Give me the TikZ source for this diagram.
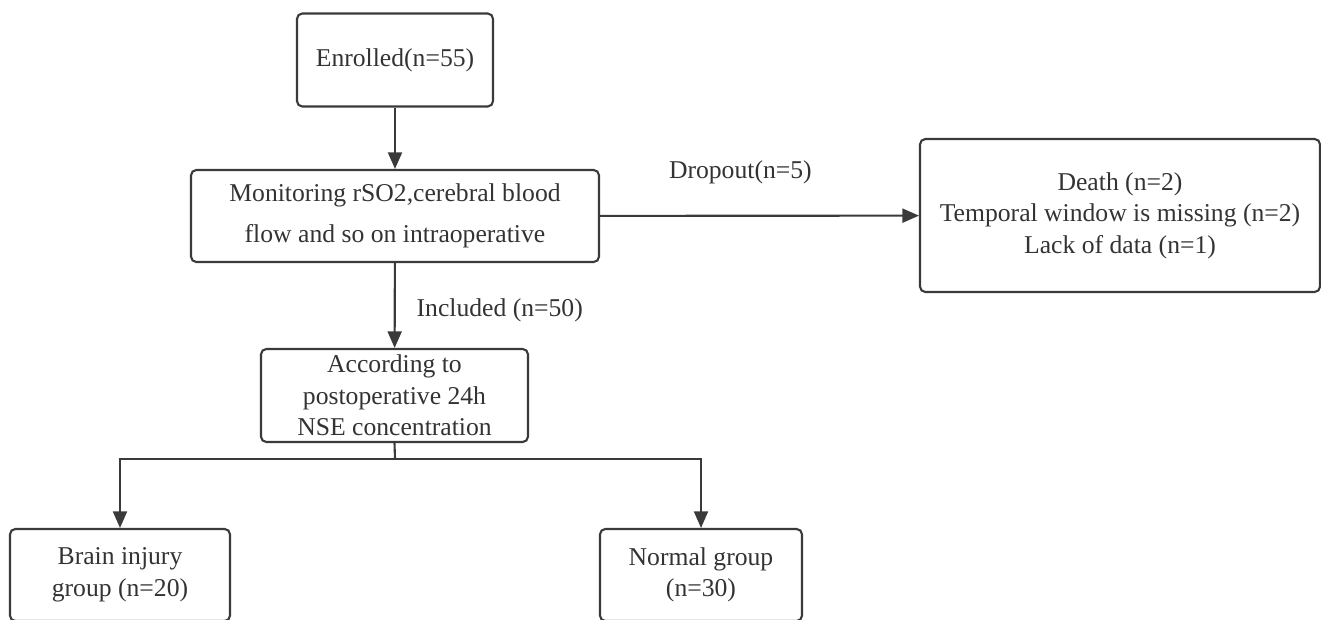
\documentclass[tikz,border=0pt]{standalone}
\usepackage{fontspec}
\setmainfont{Liberation Serif}
\usetikzlibrary{arrows.meta}
\definecolor{linec}{HTML}{3A3A3A}
\definecolor{textc}{HTML}{333333}
\tikzset{
  box/.style={draw=linec, line width=1.2pt, rounded corners=3pt, align=center,
    inner sep=0pt, text=textc, font=\fontsize{14.6}{18}\selectfont},
  arr/.style={draw=linec, line width=1.2pt, -{Triangle[length=9.5pt, width=8pt]}},
  lab/.style={text=textc, font=\fontsize{14.6}{18}\selectfont}
}
\begin{document}
\begin{tikzpicture}[x=0.02cm, y=-0.02cm]
  \useasboundingbox (0,0) rectangle (1321,619);
  \clip (0,0) rectangle (1321,619);
  % boxes
  \node[box, minimum width=3.92cm, minimum height=1.86cm] (enrol) at (395,60) {Enrolled(n=55)};
  \node[box, minimum width=8.16cm, minimum height=1.84cm, font=\fontsize{14.6}{23.5}\selectfont] (monit) at (395,216)
    {Monitoring rSO2,cerebral blood\\flow and so on intraoperative};
  \node[box, minimum width=8cm, minimum height=3.06cm] (loss) at (1120,215.5)
    {Death (n=2)\\Temporal window is missing (n=2)\\Lack of data (n=1)};
  \node[box, minimum width=5.34cm, minimum height=1.86cm] (nse) at (394.5,395.5)
    {According to\\postoperative 24h\\NSE concentration};
  \node[box, minimum width=4.4cm, minimum height=1.84cm] (brain) at (120,575) {Brain injury\\group (n=20)};
  \node[box, minimum width=4.04cm, minimum height=1.84cm] (normal) at (701,575) {Normal group\\(n=30)};
  % connectors
  \draw[arr] (enrol) -- (monit);
  \draw[arr] (monit) -- (loss) node[lab, pos=0.44, yshift=0.86cm] (drop) {Dropout(n=5)};
  \draw[arr] (monit) -- (nse) node[lab, midway, xshift=2.1cm, yshift=-0.1cm] (incl) {Included (n=50)};
  \draw[draw=linec, line width=1.2pt] (nse.south) -- (395,459) coordinate (split);
  \draw[arr] (split) -| (brain.north);
  \draw[arr] (split) -| (normal.north);
\end{tikzpicture}
\end{document}
